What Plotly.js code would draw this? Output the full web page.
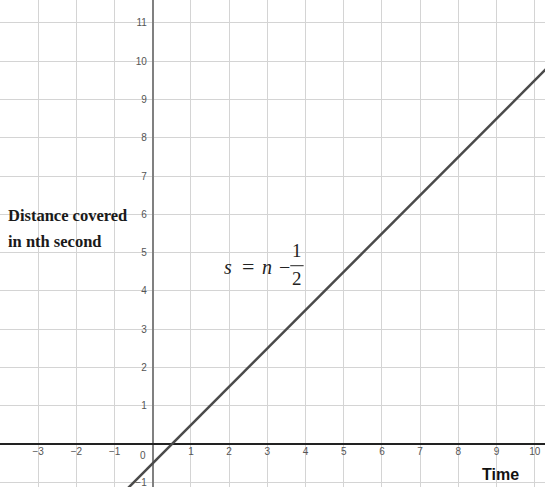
<!DOCTYPE html>
<html>
<head>
<meta charset="utf-8">
<script src="https://cdn.plot.ly/plotly-3.0.1.min.js"></script>
<style>html,body{margin:0;padding:0;background:#fff;}#chart{width:549px;height:489px;}</style>
</head>
<body>
<div id="chart"></div>
<script>
// Data
var nValues = [-1, 11];
var sValues = [-1.5, 10.5];
var xTickVals = [-4, -3, -2, -1, 0, 1, 2, 3, 4, 5, 6, 7, 8, 9, 10];
var xTickText = ['', '\u22123', '\u22122', '\u22121', '', '1', '2', '3', '4', '5', '6', '7', '8', '9', '10'];
var yTickVals = [-1, 0, 1, 2, 3, 4, 5, 6, 7, 8, 9, 10, 11];
var yTickText = ['\u22121', '', '1', '2', '3', '4', '5', '6', '7', '8', '9', '10', '11'];
var xRange = [-4.0, 10.27];
var yRange = [-1.12, 11.6];
var yTitleLines = ['Distance covered', 'in nth second'];
var xTitle = 'Time';

var xAxisPos = (0 - yRange[0]) / (yRange[1] - yRange[0]);
var yAxisPos = (0 - xRange[0]) / (xRange[1] - xRange[0]);

var trace = {
  x: nValues, y: sValues, mode: 'lines', type: 'scatter',
  line: {color: '#4a4a4a', width: 2.5}, hoverinfo: 'skip', cliponaxis: true
};

var tickFont = {family: 'Liberation Sans, Arial, sans-serif', size: 10, color: '#555'};
var eqFont = {family: 'Liberation Serif, Times New Roman, serif', size: 19, color: '#222'};

function eq(txt, x, y, size) {
  return {xref: 'x', yref: 'y', x: x, y: y, xanchor: 'center', yanchor: 'middle',
          text: txt, showarrow: false,
          font: {family: eqFont.family, size: size || eqFont.size, color: eqFont.color}};
}

var layout = {
  width: 549, height: 489,
  margin: {l: 0, r: 4, t: 0, b: 2, pad: 0},
  paper_bgcolor: '#fff', plot_bgcolor: '#fff',
  showlegend: false,
  xaxis: {
    range: xRange, tickmode: 'array', tickvals: xTickVals, ticktext: xTickText,
    showgrid: true, gridcolor: '#d4d4d4', gridwidth: 1,
    zeroline: true, zerolinecolor: '#808080', zerolinewidth: 2,
    showline: false, ticks: '', tickfont: tickFont,
    anchor: 'free', position: xAxisPos, fixedrange: true
  },
  yaxis: {
    range: yRange, tickmode: 'array', tickvals: yTickVals, ticktext: yTickText,
    showgrid: true, gridcolor: '#d4d4d4', gridwidth: 1,
    zeroline: true, zerolinecolor: '#222', zerolinewidth: 1.5,
    showline: false, ticks: '', tickfont: tickFont, ticklabelstandoff: 6,
    anchor: 'free', position: yAxisPos, fixedrange: true
  },
  annotations: [
    {xref: 'paper', yref: 'paper', x: 6/549, y: 1 - 216/489, xanchor: 'left', yanchor: 'middle',
     text: '<b>' + yTitleLines[0] + '</b>', showarrow: false,
     font: {family: 'Liberation Serif, Times New Roman, serif', size: 16.5, color: '#1a1a1a'}},
    {xref: 'paper', yref: 'paper', x: 6/549, y: 1 - 242/489, xanchor: 'left', yanchor: 'middle',
     text: '<b>' + yTitleLines[1] + '</b>', showarrow: false,
     font: {family: 'Liberation Serif, Times New Roman, serif', size: 16.5, color: '#1a1a1a'}},
    {xref: 'paper', yref: 'paper', x: 504/549, y: 1 - 476/489, xanchor: 'center', yanchor: 'middle',
     text: '<b>' + xTitle + '</b>', showarrow: false,
     font: {family: 'Liberation Sans, Arial, sans-serif', size: 16, color: '#111'}},
    {xref: 'x', yref: 'y', x: 0, y: 0, xanchor: 'right', yanchor: 'top', xshift: -5, yshift: -4,
     text: '0', showarrow: false, font: tickFont},
    eq('<i>s</i>', 1.97, 4.63, 20),
    eq('=', 2.49, 4.63, 22),
    eq('<i>n</i>', 2.99, 4.63, 20),
    eq('\u2212', 3.44, 4.63, 20),
    eq('1', 3.78, 5.05),
    eq('2', 3.78, 4.32)
  ],
  shapes: [
    {type: 'line', xref: 'x', yref: 'y', x0: 3.60, x1: 3.95, y0: 4.66, y1: 4.66,
     line: {color: '#222', width: 1}}
  ]
};

Plotly.newPlot('chart', [trace], layout, {displayModeBar: false, staticPlot: true});
</script>
</body>
</html>
